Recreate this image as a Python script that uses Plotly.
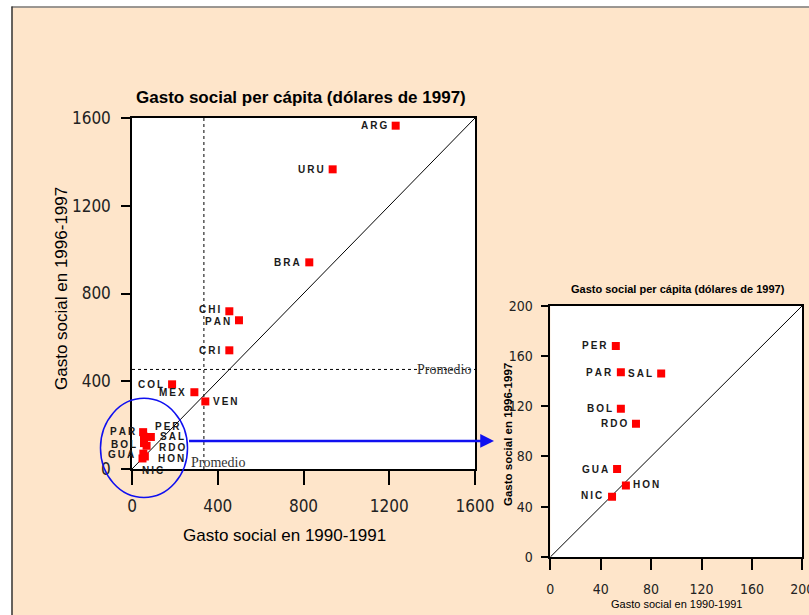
import numpy as np
import plotly.graph_objects as go

# Gasto social per cápita (dólares de 1997)
countries = ['ARG', 'URU', 'BRA', 'CHI', 'PAN', 'CRI', 'COL', 'MEX', 'VEN',
             'PER', 'PAR', 'SAL', 'BOL', 'RDO', 'GUA', 'HON', 'NIC']
gasto_1990 = [1230, 936, 827, 454, 499, 454, 187, 291, 342,
              52, 56, 88, 56, 68, 53, 60, 49]
gasto_1996 = [1565, 1366, 942, 719, 678, 541, 386, 350, 308,
              168, 147, 146, 118, 106, 70, 57, 48]

main_ticks = [0, 400, 800, 1200, 1600]
inset_ticks = [0, 40, 80, 120, 160, 200]
main_max = 1600
inset_max = 200

prom_x = np.mean(gasto_1990)
prom_y = np.mean(gasto_1996)

W, H = 809, 615
PEACH = '#FEE5CA'
NARROW = 'Liberation Sans Narrow, DejaVu Sans Condensed, Arial Narrow, Liberation Sans, sans-serif'
SANS = 'Liberation Sans, Arial, sans-serif'
SERIF = 'Liberation Serif, Times New Roman, serif'

# axis domains (paper)
main_dx = [132 / W, 475 / W]
main_dy = [(H - 469) / H, (H - 118) / H]
ins_dx = [550.3 / W, 802.3 / W]
ins_dy = [(H - 557) / H, (H - 305.7) / H]


def to_paper(xd, yd, dx, dy, rng):
    return (dx[0] + xd / rng * (dx[1] - dx[0]),
            dy[0] + yd / rng * (dy[1] - dy[0]))


# label placement: (xanchor, xshift, yshift)
main_lab = {
    'CHI': ('right', -7, 2), 'PAN': ('right', -7, -1),
    'VEN': ('left', 6, 0),
    'PER': ('left', 10, 6), 'PAR': ('right', -6, 5), 'SAL': ('left', 7, 0),
    'BOL': ('right', -6, -1), 'RDO': ('left', 10, -2), 'GUA': ('right', -7, -1),
    'HON': ('left', 11, -2), 'NIC': ('center', 10, -12),
}
ins_lab = {'HON': ('left', 5, 1), 'NIC': ('right', -8, 1)}

fig = go.Figure()

# diagonals
fig.add_trace(go.Scatter(x=[0, main_max], y=[0, main_max], mode='lines',
                         line=dict(color='black', width=1), xaxis='x', yaxis='y'))
fig.add_trace(go.Scatter(x=[0, inset_max], y=[0, inset_max], mode='lines',
                         line=dict(color='black', width=1), xaxis='x2', yaxis='y2'))

# average lines
fig.add_trace(go.Scatter(x=[prom_x, prom_x], y=[0, main_max], mode='lines',
                         line=dict(color='black', width=1, dash='dot'), xaxis='x', yaxis='y'))
fig.add_trace(go.Scatter(x=[0, main_max], y=[prom_y, prom_y], mode='lines',
                         line=dict(color='black', width=1, dash='dot'), xaxis='x', yaxis='y'))

# points
fig.add_trace(go.Scatter(x=gasto_1990, y=gasto_1996, mode='markers',
                         marker=dict(symbol='square', size=8, color='#FF0000'),
                         xaxis='x', yaxis='y'))
small = [i for i in range(len(countries)) if gasto_1990[i] < inset_max and gasto_1996[i] < inset_max]
fig.add_trace(go.Scatter(x=[gasto_1990[i] for i in small], y=[gasto_1996[i] for i in small],
                         mode='markers',
                         marker=dict(symbol='square', size=8, color='#FF0000'),
                         xaxis='x2', yaxis='y2'))

annotations = []
lab_font = dict(family=SANS, size=10, color='#1a1a1a', weight='bold')


def spaced(t):
    return '\u2009'.join(t)


for i, c in enumerate(countries):
    xa, xs, ys = main_lab.get(c, ('right', -7, 0))
    annotations.append(dict(x=gasto_1990[i], y=gasto_1996[i], xref='x', yref='y',
                            text=spaced(c), showarrow=False, xanchor=xa, yanchor='middle',
                            xshift=xs, yshift=ys, font=lab_font))
for i in small:
    c = countries[i]
    xa, xs, ys = ins_lab.get(c, ('right', -7, 0))
    annotations.append(dict(x=gasto_1990[i], y=gasto_1996[i], xref='x2', yref='y2',
                            text=spaced(c), showarrow=False, xanchor=xa, yanchor='middle',
                            xshift=xs, yshift=ys, font=lab_font))

# "Promedio" labels
prom_font = dict(family=SERIF, size=14, color='#333333')
annotations.append(dict(x=main_max, y=prom_y, xref='x', yref='y', text='Promedio',
                        showarrow=False, xanchor='right', yanchor='middle', xshift=-2,
                        font=prom_font))
annotations.append(dict(x=prom_x, y=0, xref='x', yref='y', text='Promedio',
                        showarrow=False, xanchor='left', yanchor='middle', xshift=-15,
                        yshift=7, font=prom_font))


def title(x, y, text, size, bold=False, angle=0):
    f = dict(family=SANS, size=size, color='black')
    if bold:
        f['weight'] = 'bold'
    return dict(x=x / W, y=(H - y) / H, xref='paper', yref='paper', showarrow=False,
                xanchor='center', yanchor='middle', text=text, textangle=angle, font=f)


annotations += [
    title(301, 97, 'Gasto social per cápita (dólares de 1997)', 17, bold=True),
    title(284, 535, 'Gasto social en 1990-1991', 17),
    title(61, 289, 'Gasto social en 1996-1997', 17, angle=-90),
    title(678, 289, 'Gasto social per cápita (dólares de 1997)', 11, bold=True),
    title(676, 604, 'Gasto social en 1990-1991', 11),
    title(508, 435, 'Gasto social en 1996-1997', 11.5, bold=True, angle=-90),
]

# circle around the small countries and arrow to the inset
cx0, cy0 = to_paper(56 - 203, 96 - 226, main_dx, main_dy, main_max)
cx1, cy1 = to_paper(56 + 203, 96 + 226, main_dx, main_dy, main_max)
ax_start, ay = to_paper(56 + 203, 128, main_dx, main_dy, main_max)
head_x = 494 / W
annotations.append(dict(x=head_x, y=ay, xref='paper', yref='paper', text='',
                        showarrow=True, ax=-(head_x - ax_start) * W, ay=0,
                        arrowhead=2, arrowsize=1.1, arrowwidth=2.5, arrowcolor='#1010F0'))

shapes = [
    dict(type='rect', xref='paper', yref='paper', x0=0, x1=11.5 / W, y0=0, y1=1,
         fillcolor='white', line=dict(width=0), layer='above'),
    dict(type='rect', xref='paper', yref='paper', x0=0, x1=1, y0=(H - 6.5) / H, y1=1,
         fillcolor='white', line=dict(width=0), layer='above'),
    dict(type='line', xref='paper', yref='paper', x0=11.5 / W, x1=1, y0=(H - 7) / H, y1=(H - 7) / H,
         line=dict(color='#7a7a7a', width=1.5)),
    dict(type='line', xref='paper', yref='paper', x0=12 / W, x1=12 / W, y0=0, y1=(H - 6.5) / H,
         line=dict(color='#333333', width=1.5)),
    dict(type='circle', xref='paper', yref='paper', x0=cx0, x1=cx1, y0=cy0, y1=cy1,
         line=dict(color='#1010F0', width=1.5)),
]

axis_common = dict(showgrid=False, zeroline=False, showline=True, mirror=True,
                   linecolor='black', linewidth=1.5, ticks='outside', tickcolor='black',
                   tickwidth=1.5, automargin=False, ticklabeloverflow='allow')

fig.update_layout(
    width=W, height=H, autosize=False,
    margin=dict(l=0, r=0, t=0, b=0, pad=0, autoexpand=False),
    paper_bgcolor=PEACH, plot_bgcolor='white',
    showlegend=False,
    xaxis=dict(domain=main_dx, range=[0, main_max], tickvals=main_ticks, ticklen=14,
               tickfont=dict(family=NARROW, size=17, color='#222'), anchor='y',
               ticklabelstandoff=7, **axis_common),
    yaxis=dict(domain=main_dy, range=[0, main_max], tickvals=main_ticks, ticklen=9,
               tickfont=dict(family=NARROW, size=17, color='#222'), anchor='x',
               ticklabelstandoff=7, **axis_common),
    xaxis2=dict(domain=ins_dx, range=[0, inset_max], tickvals=inset_ticks, ticklen=11,
                tickfont=dict(family=NARROW, size=14, color='#222'), anchor='y2',
                ticklabelstandoff=7, **axis_common),
    yaxis2=dict(domain=ins_dy, range=[0, inset_max], tickvals=inset_ticks, ticklen=8,
                tickfont=dict(family=NARROW, size=14, color='#222'), anchor='x2',
                ticklabelstandoff=5, **axis_common),
    annotations=annotations,
    shapes=shapes,
)

fig.write_html("out.html", config={'responsive': False, 'displayModeBar': False},
               post_script="document.body.style.margin='0';")
